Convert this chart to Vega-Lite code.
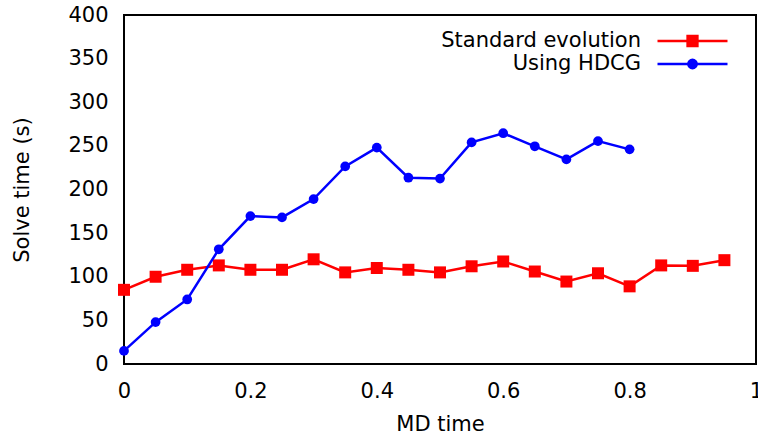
{
  "$schema": "https://vega.github.io/schema/vega-lite/v6.json",
  "width": 632,
  "height": 349,
  "autosize": "none",
  "padding": {"left": 124, "top": 15, "right": 2, "bottom": 75},
  "background": "white",
  "config": {
    "font": "DejaVu Sans",
    "view": {"stroke": "black", "strokeWidth": 2},
    "axis": {
      "labelFont": "DejaVu Sans",
      "labelFontSize": 21,
      "labelColor": "black",
      "titleFont": "DejaVu Sans",
      "titleFontSize": 21,
      "titleFontWeight": "normal",
      "titleColor": "black",
      "grid": false,
      "ticks": false,
      "domain": false
    },
    "legend": {
      "orient": "none",
      "legendX": 532,
      "legendY": 16,
      "padding": 0,
      "labelFont": "DejaVu Sans",
      "labelFontSize": 21,
      "labelColor": "black",
      "labelAlign": "right",
      "labelOffset": -88,
      "labelLimit": 0,
      "rowPadding": 2,
      "symbolSize": 4900
    }
  },
  "datasets": {
    "series": [
      {"s": "Standard evolution", "x": 0, "y": 85},
      {"s": "Standard evolution", "x": 0.05, "y": 100},
      {"s": "Standard evolution", "x": 0.1, "y": 108},
      {"s": "Standard evolution", "x": 0.15, "y": 113},
      {"s": "Standard evolution", "x": 0.2, "y": 108},
      {"s": "Standard evolution", "x": 0.25, "y": 108},
      {"s": "Standard evolution", "x": 0.3, "y": 120},
      {"s": "Standard evolution", "x": 0.35, "y": 105},
      {"s": "Standard evolution", "x": 0.4, "y": 110},
      {"s": "Standard evolution", "x": 0.45, "y": 108},
      {"s": "Standard evolution", "x": 0.5, "y": 105},
      {"s": "Standard evolution", "x": 0.55, "y": 112},
      {"s": "Standard evolution", "x": 0.6, "y": 117.5},
      {"s": "Standard evolution", "x": 0.65, "y": 106},
      {"s": "Standard evolution", "x": 0.7, "y": 94.5},
      {"s": "Standard evolution", "x": 0.75, "y": 104},
      {"s": "Standard evolution", "x": 0.8, "y": 89},
      {"s": "Standard evolution", "x": 0.85, "y": 113},
      {"s": "Standard evolution", "x": 0.9, "y": 112.5},
      {"s": "Standard evolution", "x": 0.95, "y": 119},
      {"s": "Using HDCG", "x": 0, "y": 15},
      {"s": "Using HDCG", "x": 0.05, "y": 48},
      {"s": "Using HDCG", "x": 0.1, "y": 74},
      {"s": "Using HDCG", "x": 0.15, "y": 131.5},
      {"s": "Using HDCG", "x": 0.2, "y": 169.5},
      {"s": "Using HDCG", "x": 0.25, "y": 168},
      {"s": "Using HDCG", "x": 0.3, "y": 189},
      {"s": "Using HDCG", "x": 0.35, "y": 226.5},
      {"s": "Using HDCG", "x": 0.4, "y": 248},
      {"s": "Using HDCG", "x": 0.45, "y": 213.5},
      {"s": "Using HDCG", "x": 0.5, "y": 212.5},
      {"s": "Using HDCG", "x": 0.55, "y": 254},
      {"s": "Using HDCG", "x": 0.6, "y": 264.5},
      {"s": "Using HDCG", "x": 0.65, "y": 249.5},
      {"s": "Using HDCG", "x": 0.7, "y": 234.5},
      {"s": "Using HDCG", "x": 0.75, "y": 255.5},
      {"s": "Using HDCG", "x": 0.8, "y": 246}
    ],
    "xticks": [{"x": 0.2}, {"x": 0.4}, {"x": 0.6}, {"x": 0.8}],
    "yticks": [{"y": 50}, {"y": 100}, {"y": 150}, {"y": 200}, {"y": 250}, {"y": 300}, {"y": 350}]
  },
  "data": {"name": "series"},
  "encoding": {
    "x": {
      "field": "x",
      "type": "quantitative",
      "scale": {"domain": [0, 1], "nice": false, "zero": false},
      "axis": {
        "title": "MD time",
        "values": [0, 0.2, 0.4, 0.6, 0.8, 1],
        "format": "~g",
        "labelFlush": false,
        "labelBaseline": "middle",
        "labelPadding": 27,
        "titleY": 60,
        "titleBaseline": "middle"
      }
    },
    "y": {
      "field": "y",
      "type": "quantitative",
      "scale": {"domain": [0, 400], "nice": false},
      "axis": {
        "title": "Solve time (s)",
        "values": [0, 50, 100, 150, 200, 250, 300, 350, 400],
        "labelPadding": 16,
        "labelBaseline": "middle",
        "titleX": -102,
        "titleY": 174.5,
        "titleAngle": -90,
        "titleAlign": "center",
        "titleBaseline": "middle"
      }
    }
  },
  "layer": [
    {
      "data": {"name": "xticks"},
      "mark": {"type": "rule", "strokeWidth": 2, "color": "#000000", "opacity": 1},
      "encoding": {"y": {"datum": 0, "type": "quantitative"}, "y2": {"datum": 12}}
    },
    {
      "data": {"name": "xticks"},
      "mark": {"type": "rule", "strokeWidth": 2, "color": "#000000", "opacity": 1},
      "encoding": {"y": {"datum": 388, "type": "quantitative"}, "y2": {"datum": 400}}
    },
    {
      "data": {"name": "yticks"},
      "mark": {"type": "rule", "strokeWidth": 2, "color": "#000000", "opacity": 1},
      "encoding": {"x": {"datum": 0, "type": "quantitative"}, "x2": {"datum": 0.017}}
    },
    {
      "data": {"name": "yticks"},
      "mark": {"type": "rule", "strokeWidth": 2, "color": "#000000", "opacity": 1},
      "encoding": {"x": {"datum": 0.983, "type": "quantitative"}, "x2": {"datum": 1}}
    },
    {
      "transform": [{"filter": "datum.s == 'Standard evolution'"}],
      "mark": {"type": "line", "strokeWidth": 2.5},
      "encoding": {
        "color": {
          "field": "s",
          "type": "nominal",
          "scale": {"domain": ["Standard evolution", "Using HDCG"], "range": ["#ff0000", "#0000ff"]},
          "legend": {
            "title": null,
            "encode": {
              "symbols": {
                "update": {
                  "y": {"value": 10},
                  "shape": {"signal": "datum.value == 'Standard evolution' ? 'M-1,0H1M-0.14,-0.14H0.14V0.14H-0.14Z' : 'M-1,0H1M-0.12,0A0.12,0.12,0,1,0,0.12,0A0.12,0.12,0,1,0,-0.12,0Z'"},
                  "fill": {"signal": "datum.value == 'Standard evolution' ? '#ff0000' : '#0000ff'"},
                  "stroke": {"signal": "datum.value == 'Standard evolution' ? '#ff0000' : '#0000ff'"},
                  "strokeWidth": {"value": 2.5},
                  "opacity": {"value": 1},
                  "fillOpacity": {"value": 1}
                }
              },
              "labels": {
                "update": {"y": {"value": 10}}
              }
            }
          }
        }
      }
    },
    {
      "transform": [{"filter": "datum.s == 'Standard evolution'"}],
      "mark": {"type": "point", "shape": "square", "filled": true, "size": 144, "color": "#ff0000", "opacity": 1}
    },
    {
      "transform": [{"filter": "datum.s == 'Using HDCG'"}],
      "mark": {"type": "line", "strokeWidth": 2.5},
      "encoding": {
        "color": {"field": "s", "type": "nominal"}
      }
    },
    {
      "transform": [{"filter": "datum.s == 'Using HDCG'"}],
      "mark": {"type": "point", "shape": "circle", "filled": true, "size": 95, "color": "#0000ff", "opacity": 1}
    }
  ]
}
